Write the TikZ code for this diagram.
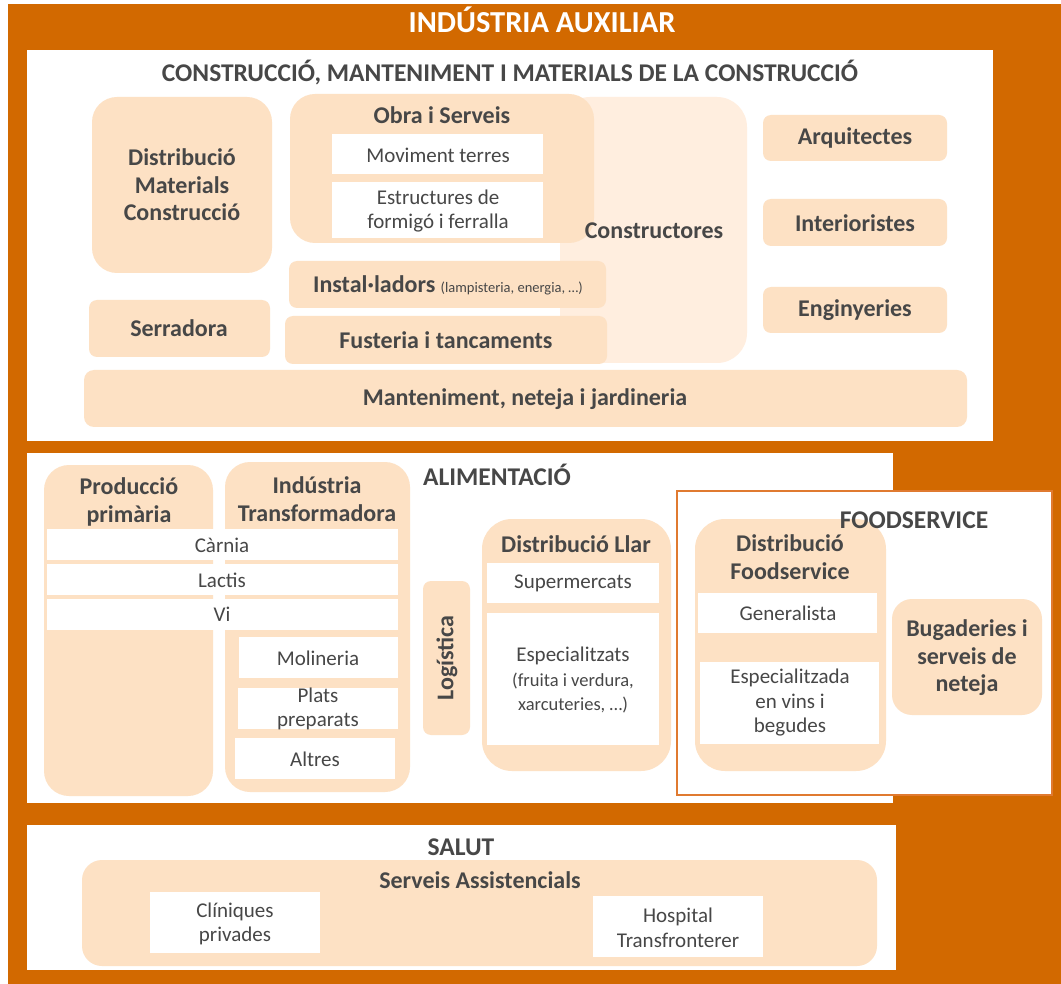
\documentclass[tikz,border=0pt]{standalone}
\usepackage{fontspec}
\setmainfont{Carlito}
\definecolor{frameorange}{HTML}{D26900}
\definecolor{peach}{HTML}{FDE1C4}
\definecolor{palepeach}{HTML}{FFEEDF}
\definecolor{inkgray}{HTML}{474747}
\definecolor{fsline}{HTML}{E07A30}
\tikzset{
  secbox/.style={fill=white},
  peachbox/.style={fill=peach, rounded corners=#1},
  peachbox/.default=8pt,
  whitebox/.style={fill=white},
  hd/.style={text=inkgray, font=\bfseries\fontsize{24}{27.5}\selectfont, align=center, inner sep=0pt},
  sechd/.style={hd, font=\bfseries\fontsize{25.5}{28}\selectfont},
  tx/.style={text=inkgray, font=\fontsize{21}{24.5}\selectfont, align=center, inner sep=0pt},
}
\begin{document}
\begin{tikzpicture}[x=1pt,y=-1pt]
\useasboundingbox (0,0) rectangle (1061,984);
\fill[frameorange] (8,4) rectangle (1061,984);
\node[hd, text=white, font=\bfseries\fontsize{30.5}{32}\selectfont] (aux) at (542,20) {INDÚSTRIA AUXILIAR};
% construccio
\fill[secbox] (27,50) rectangle (993,441);
\node[sechd] (constr) at (510,73) {CONSTRUCCIÓ, MANTENIMENT I MATERIALS DE LA CONSTRUCCIÓ};
\fill[palepeach, rounded corners=30pt] (560,97) rectangle (747,363);
\fill[peachbox=25pt] (290,94) rectangle (594,243);
\node[hd] (constructors) at (654,231) {Constructores};
\node[hd] (obra) at (442,115) {Obra i Serveis};
\fill[whitebox] (332,134) rectangle (543,174);
\node[tx] (terres) at (438,155) {Moviment terres};
\fill[whitebox] (332,182) rectangle (543,238);
\node[tx] (estruct) at (438,211) {Estructures de\\formigó i ferralla};
\fill[peachbox] (289,261) rectangle (606,308);
\node[hd] (instal) at (448,285) {Instal·ladors {\mdseries\fontsize{14.5}{16}\selectfont (lampisteria, energia, …)}};
\fill[peachbox] (285,316) rectangle (607,364);
\node[hd] (fusteria) at (446,340) {Fusteria i tancaments};
\fill[peachbox=25pt] (92,97) rectangle (272,273);
\node[hd] (distmat) at (182,185) {Distribució\\Materials\\Construcció};
\fill[peachbox] (89,300) rectangle (270,357);
\node[hd] (serradora) at (179,328) {Serradora};
\fill[peachbox] (763,115) rectangle (947,161);
\node[hd] (arquitectes) at (855,138) {Arquitectes};
\fill[peachbox] (763,199) rectangle (947,246);
\node[hd] (interior) at (855,223) {Interioristes};
\fill[peachbox] (763,287) rectangle (947,333);
\node[hd] (enginy) at (855,310) {Enginyeries};
\fill[peachbox=10pt] (84,370) rectangle (967,427);
\node[hd] (mant) at (525,399) {Manteniment, neteja i jardineria};
% alimentacio
\fill[secbox] (27,453) rectangle (893,803);
\filldraw[fill=white, draw=fsline, line width=1.5pt] (677,491) rectangle (1052,795);
\node[sechd] (alim) at (497,475) {ALIMENTACIÓ};
\fill[peachbox=25pt] (44,465) rectangle (213,796);
\node[hd] (prod) at (129,502) {Producció\\primària};
\fill[peachbox=25pt] (225,462) rectangle (410,792);
\node[hd] (transf) at (317,499) {Indústria\\Transformadora};
\fill[whitebox] (47,529) rectangle (398,560);
\node[tx] (carnia) at (222,545) {Càrnia};
\fill[whitebox] (47,564) rectangle (398,595);
\node[tx] (lactis) at (222,580) {Lactis};
\fill[whitebox] (47,599) rectangle (398,630);
\node[tx] (vi) at (222,614) {Vi};
\fill[whitebox] (239,637) rectangle (398,678);
\node[tx] (molin) at (318,658) {Molineria};
\fill[whitebox] (238,688) rectangle (398,729);
\node[tx] (plats) at (318,709) {Plats\\preparats};
\fill[whitebox] (235,738) rectangle (395,779);
\node[tx] (altres) at (315,759) {Altres};
\fill[peachbox] (423,581) rectangle (470,735);
\node[hd, rotate=90] (logist) at (447,658) {Logística};
\fill[peachbox=30pt] (482,519) rectangle (671,771);
\node[hd] (llar) at (576,544) {Distribució Llar};
\fill[whitebox] (487,563) rectangle (659,603);
\node[tx] (super) at (573,583) {Supermercats};
\fill[whitebox] (487,613) rectangle (659,745);
\node[tx] (espec) at (573,680) {Especialitzats\\{\fontsize{18.5}{23}\selectfont (fruita i verdura,}\\{\fontsize{18.5}{21}\selectfont xarcuteries, …)}};
\fill[peachbox=30pt] (695,519) rectangle (886,771);
\node[hd] (distfood) at (790,557) {Distribució\\Foodservice};
\fill[whitebox] (698,593) rectangle (877,633);
\node[tx] (general) at (788,613) {Generalista};
\fill[whitebox] (700,662) rectangle (879,744);
\node[tx] (vins) at (790,703) {Especialitzada\\en vins i\\begudes};
\fill[peachbox=20pt] (892,599) rectangle (1042,715);
\node[hd] (bugad) at (967,658) {Bugaderies i\\serveis de\\neteja};
\node[sechd] (foodserv) at (914,520) {FOODSERVICE};
% salut
\fill[secbox] (27,825) rectangle (896,970);
\node[sechd] (salut) at (461,847) {SALUT};
\fill[peachbox=20pt] (82,860) rectangle (877,966);
\node[hd] (assist) at (480,880) {Serveis Assistencials};
\fill[whitebox] (150,892) rectangle (320,953);
\node[tx] (cliniq) at (235,924) {Clíniques\\privades};
\fill[whitebox] (593,896) rectangle (763,957);
\node[tx] (hosp) at (678,928) {Hospital\\Transfronterer};
\end{tikzpicture}
\end{document}
